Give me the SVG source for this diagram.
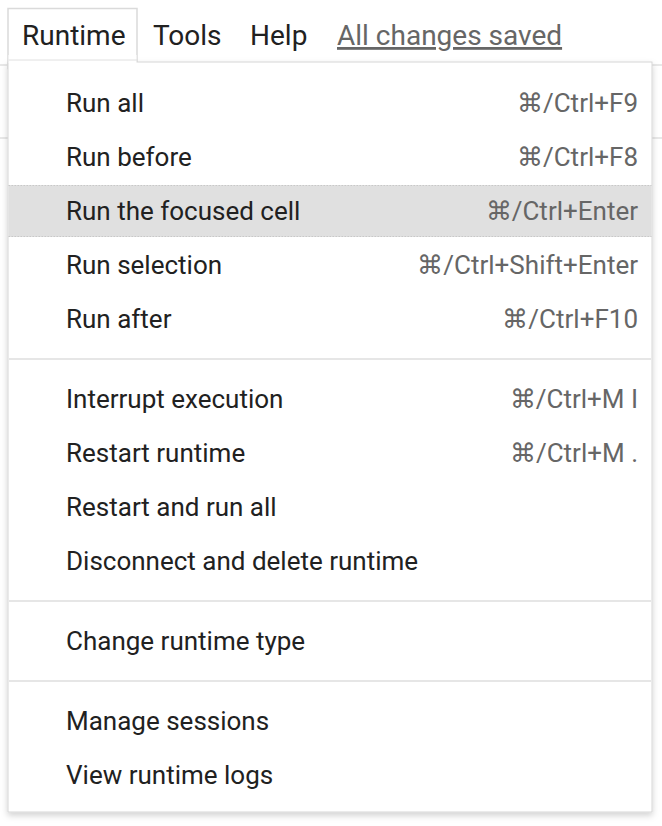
<svg xmlns="http://www.w3.org/2000/svg" width="662" height="826" viewBox="0 0 662 826">
<style>
.item{font-family:Roboto,"Liberation Sans",sans-serif;font-size:26px;fill:#212121}
.key{font-family:Roboto,"Liberation Sans",sans-serif;font-size:26px;fill:#666;text-anchor:end}
.bar{font-family:Roboto,"Liberation Sans",sans-serif;font-size:28px;fill:#212121}
.sep{stroke:#e6e6e6;stroke-width:2}
.bg{stroke:#e0e0e0;stroke-width:1.5}
</style>
<defs>
<filter id="sh" x="-5%" y="-5%" width="110%" height="110%">
<feDropShadow dx="0" dy="3" stdDeviation="3" flood-color="#000" flood-opacity="0.18"/>
</filter>
</defs>
<rect width="662" height="826" fill="#fff"/>
<g id="background-lines">
<line class="bg" x1="0" y1="65" x2="662" y2="65"/>
<line class="bg" x1="0" y1="138" x2="662" y2="138"/>
</g>
<g id="menubar">
<rect x="8" y="8.5" width="129" height="60" fill="#fff" stroke="#dadada" stroke-width="1.5"/>
<text class="bar" x="22" y="45">Runtime</text>
<text class="bar" x="153" y="45">Tools</text>
<text class="bar" x="250" y="45">Help</text>
<text class="bar" x="337" y="45" style="fill:#666;text-decoration:underline">All changes saved</text>
</g>
<g id="menu">
<rect x="8" y="62" width="644" height="750" fill="#fff" stroke="#d6d6d6" stroke-width="1" filter="url(#sh)"/>
<rect x="8.5" y="55" width="128" height="8" fill="#fff"/>
<line x1="8.5" y1="60" x2="137" y2="60" stroke="#e0e0e0" stroke-width="1"/>
<g id="highlight">
<rect x="8.5" y="185" width="643" height="52" fill="#e0e0e0"/>
<line x1="8.5" y1="185.5" x2="651.5" y2="185.5" stroke="#c8c8c8" stroke-width="1" stroke-dasharray="1.5 1.5"/>
<line x1="8.5" y1="236.5" x2="651.5" y2="236.5" stroke="#c8c8c8" stroke-width="1" stroke-dasharray="1.5 1.5"/>
</g>
<g id="separators">
<line class="sep" x1="9" y1="359" x2="651" y2="359"/>
<line class="sep" x1="9" y1="601" x2="651" y2="601"/>
<line class="sep" x1="9" y1="681" x2="651" y2="681"/>
</g>
<g id="item-run-all"><text class="item" x="66" y="112">Run all</text><text class="key" x="638" y="112">⌘/Ctrl+F9</text></g>
<g id="item-run-before"><text class="item" x="66" y="166">Run before</text><text class="key" x="638" y="166">⌘/Ctrl+F8</text></g>
<g id="item-run-focused"><text class="item" x="66" y="220">Run the focused cell</text><text class="key" x="638" y="220">⌘/Ctrl+Enter</text></g>
<g id="item-run-selection"><text class="item" x="66" y="274">Run selection</text><text class="key" x="638" y="274">⌘/Ctrl+Shift+Enter</text></g>
<g id="item-run-after"><text class="item" x="66" y="328">Run after</text><text class="key" x="638" y="328">⌘/Ctrl+F10</text></g>
<g id="item-interrupt"><text class="item" x="66" y="408">Interrupt execution</text><text class="key" x="638" y="408">⌘/Ctrl+M I</text></g>
<g id="item-restart"><text class="item" x="66" y="462">Restart runtime</text><text class="key" x="638" y="462">⌘/Ctrl+M .</text></g>
<g id="item-restart-run"><text class="item" x="66" y="516">Restart and run all</text></g>
<g id="item-disconnect"><text class="item" x="66" y="570">Disconnect and delete runtime</text></g>
<g id="item-change-type"><text class="item" x="66" y="650">Change runtime type</text></g>
<g id="item-manage"><text class="item" x="66" y="730">Manage sessions</text></g>
<g id="item-logs"><text class="item" x="66" y="784">View runtime logs</text></g>
</g>
</svg>
